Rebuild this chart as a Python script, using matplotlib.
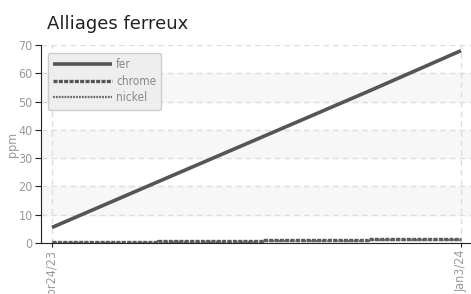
import numpy as np
import pandas as pd
import matplotlib
matplotlib.use("Agg")
import matplotlib.pyplot as plt
from matplotlib import font_manager

# data
dates = pd.to_datetime(["2023-04-24", "2023-06-29", "2023-09-02",
                        "2023-11-06", "2024-01-03"])
fer = [5.5, 21.7, 37.6, 53.5, 68.0]
chrome = [0.2, 0.6, 0.9, 1.3, 1.3]
nickel = [0.1, 0.4, 0.8, 1.1, 1.1]
tick_labels = ["Apr24/23", "Jan3/24"]

narrow = font_manager.FontProperties(family="DejaVu Sans", stretch="condensed", size=9)
grey = "#999999"

fig = plt.figure(figsize=(4.71, 2.94), dpi=100)
ax = fig.add_axes([41 / 471, 1 - 243 / 294, 430 / 471, 198 / 294])

# alternating bands
for lo in (10, 30, 50):
    ax.axhspan(lo, lo + 10, color="#f7f7f7", zorder=0)

ax.plot(dates, fer, color="#555555", lw=2.6, label="fer", solid_capstyle="butt")
ax.plot(dates, chrome, color="#555555", lw=2.4, ls=(0, (1.2, 0.4)),
        drawstyle="steps-post", label="chrome")
ax.plot(dates, nickel, color="#666666", lw=1.6, ls=(0, (0.8, 0.5)),
        drawstyle="steps-post", label="nickel")

span = dates[-1] - dates[0]
ax.set_xlim(dates[0] - span * 11 / 409, dates[-1] + span * 10 / 409)
ax.set_ylim(0, 70)
ax.set_yticks(range(0, 71, 10))
ax.set_xticks([dates[0], dates[-1]])
ax.set_xticklabels(tick_labels, rotation=90, color=grey, fontproperties=narrow)
for t in ax.get_yticklabels():
    t.set_fontproperties(narrow)
    t.set_color(grey)

ax.grid(True, ls=(0, (4, 3)), color="#dddddd", lw=1)
ax.set_axisbelow(True)
for s in ("top", "right"):
    ax.spines[s].set_visible(False)
ax.spines["left"].set_color("#222222")
ax.spines["bottom"].set_color("#222222")
ax.tick_params(axis="y", length=4, color="#222222", pad=2)
ax.tick_params(axis="x", length=3, color="#222222", pad=2)

ax.set_ylabel("ppm", color=grey, fontproperties=narrow)
ax.yaxis.set_label_coords(-22 / 430, 0.5)
fig.text(47 / 471, 1 - 29 / 294, "Alliages ferreux", fontsize=13, color="#222222")

leg = ax.legend(loc="upper left", bbox_to_anchor=(7 / 430, 1 - 8 / 198), handlelength=5.0,
                prop=font_manager.FontProperties(family="DejaVu Sans", stretch="condensed", size=8.5),
                labelcolor="#888888", frameon=True, fancybox=True, borderpad=0.45,
                borderaxespad=0, labelspacing=0.3, handletextpad=0.3)
leg.get_frame().set_facecolor("#eeeeee")
leg.get_frame().set_edgecolor("#cccccc")
leg.get_frame().set_alpha(1)

fig.savefig("out.png", dpi=100)
